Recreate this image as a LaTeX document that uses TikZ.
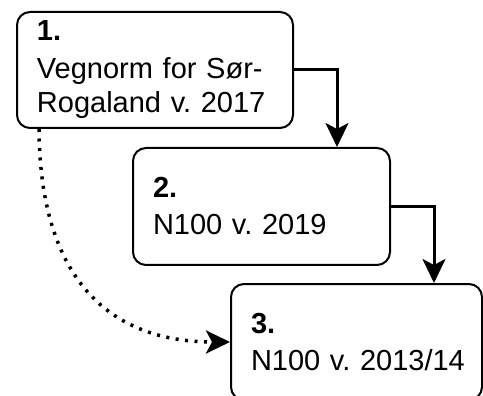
\documentclass[tikz,border=0pt]{standalone}
\usepackage{fontspec}
\setmainfont{Liberation Sans}
\usetikzlibrary{arrows.meta}
\frenchspacing
\tikzset{
  stepbox/.style={draw, line width=2pt, rounded corners=13pt, align=left,
    inner xsep=20pt, inner ysep=0pt, font=\fontsize{29}{34}\selectfont},
  flow/.style={line width=3pt, -{Stealth[length=24pt,width=23pt,inset=6pt]}},
  link/.style={line width=3.5pt, dash pattern=on 3pt off 6.5pt,
    -{Stealth[length=24pt,width=23pt,inset=6pt]}}
}
\begin{document}
\begin{tikzpicture}[x=1pt,y=-1pt]
  \useasboundingbox (0,0) rectangle (483,396);
  % the three versions
  \node[stepbox, minimum width=276pt, minimum height=116pt, text width=236pt]
    (n1) at (155,70) {\textbf{1.}\\[4pt]\mbox{Vegnorm for Sør-}\\\mbox{Rogaland v. 2017}};
  \node[stepbox, minimum width=257pt, minimum height=117pt, text width=217pt]
    (n2) at (261.5,206.5) {\textbf{2.}\\[3pt]\mbox{N100 v. 2019}};
  \node[stepbox, minimum width=251pt, minimum height=116pt, text width=211pt]
    (n3) at (356.5,342) {\textbf{3.}\\[3pt]\mbox{N100 v. 2013/14}};
  % connectors
  \draw[flow] (n1.east) -| ([xshift=75.5pt]n2.north);
  \draw[flow] (n2.east) -| ([xshift=77.5pt]n3.north);
  \draw[link] ([xshift=23pt]n1.south west) .. controls (40,280) and (110,342) .. (n3.west);
\end{tikzpicture}
\end{document}
